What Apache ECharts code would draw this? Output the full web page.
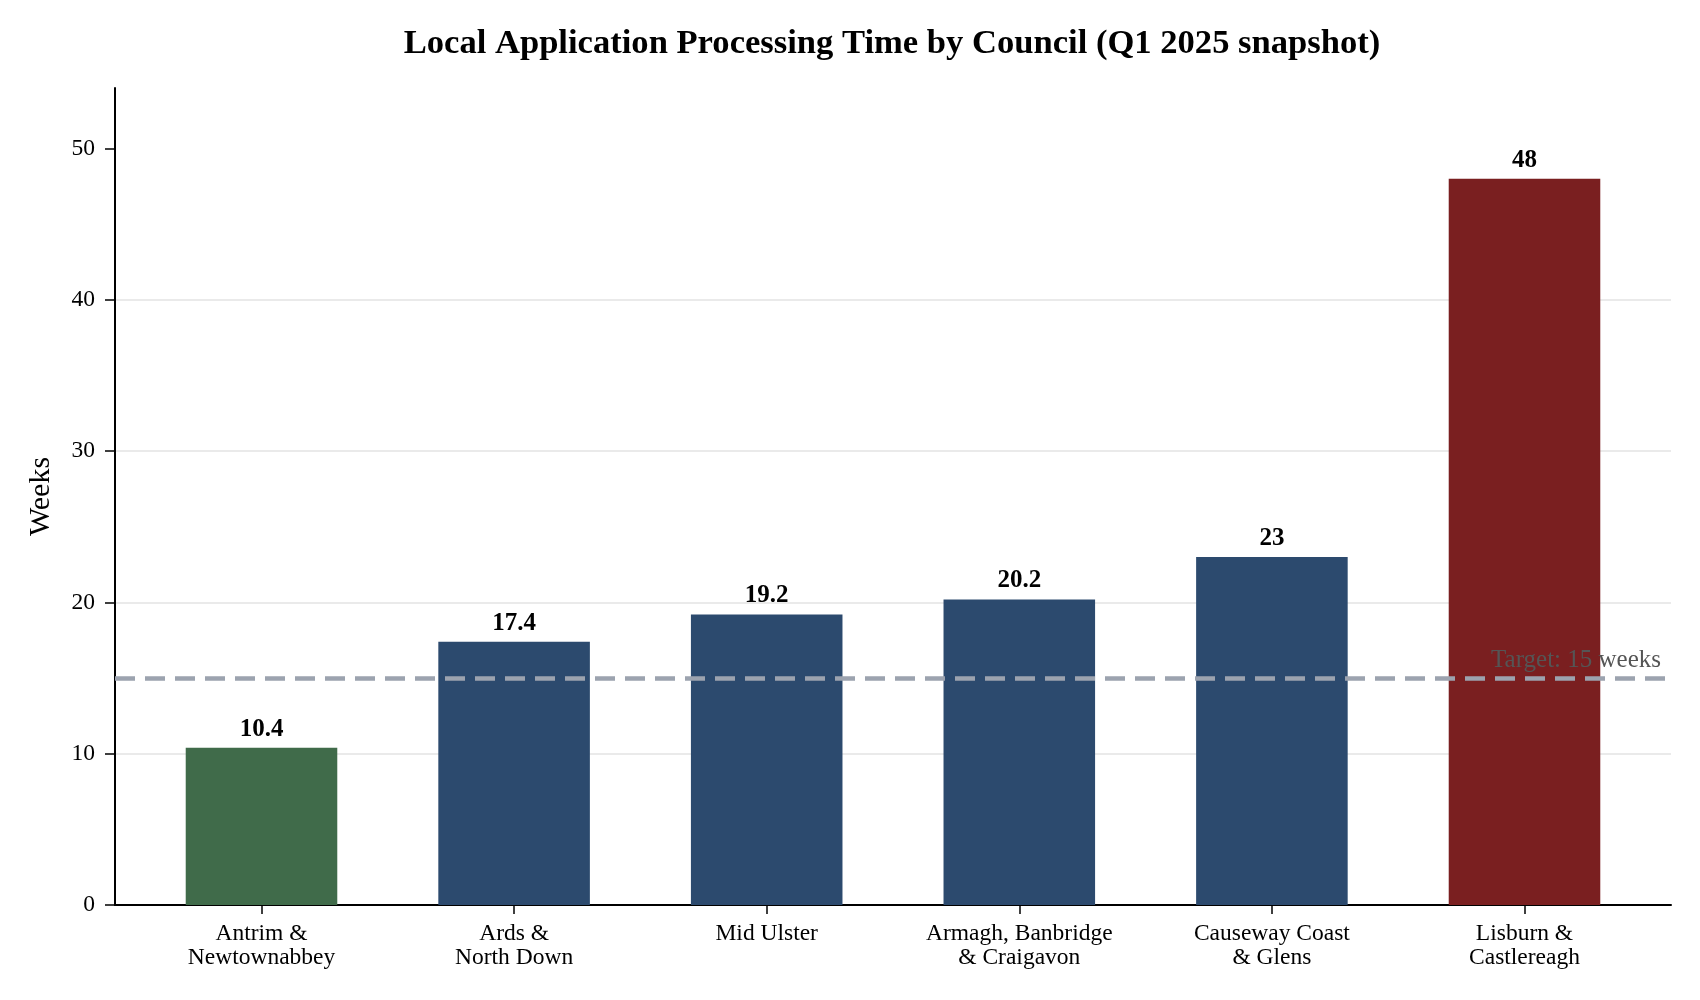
<!DOCTYPE html>
<html>
<head>
<meta charset="utf-8">
<title>Local Application Processing Time by Council</title>
<script src="https://cdn.jsdelivr.net/npm/echarts@6/dist/echarts.min.js"></script>
<style>
  html, body { margin: 0; padding: 0; background: #fff; }
  #chart { width: 1700px; height: 1000px; }
</style>
</head>
<body>
<div id="chart"></div>
<script>
// data
const councils = [
  "Antrim &\nNewtownabbey",
  "Ards &\nNorth Down",
  "Mid Ulster",
  "Armagh, Banbridge\n& Craigavon",
  "Causeway Coast\n& Glens",
  "Lisburn &\nCastlereagh",
];
const weeks = [10.4, 17.4, 19.2, 20.2, 23, 48];
const yTicks = [0, 10, 20, 30, 40, 50];
const targetWeeks = 15;
const yMax = 54;

const FONT = "Liberation Serif";
const GREEN = "#406b4a";
const BLUE = "#2c4a6e";
const RED = "#7a1f20";

// green = under target, red = the slowest, blue for the rest
const worst = Math.max(...weeks);
const barData = weeks.map((v) => ({
  value: v,
  itemStyle: { color: v < targetWeeks ? GREEN : v === worst ? RED : BLUE },
}));

const chart = echarts.init(document.getElementById("chart"), null, {
  renderer: "canvas",
});

const option = {
  backgroundColor: "#fff",
  animation: false,
  textStyle: { fontFamily: FONT },
  title: {
    text: "Local Application Processing Time by Council (Q1 2025 snapshot)",
    left: 887,
    textAlign: "center",
    top: 22,
    textStyle: {
      fontFamily: FONT,
      fontSize: 34.6,
      fontWeight: "bold",
      color: "#000",
    },
  },
  grid: [
    // full plot frame: y axis, grid lines, target line
    { left: 115, right: 29, top: 88, bottom: 95 },
    // inset grid so bar centres sit like matplotlib's padded x range
    { left: 135.2, right: 49.2, top: 88, bottom: 95 },
  ],
  xAxis: [
    {
      type: "value",
      gridIndex: 0,
      min: -0.58,
      max: 5.58,
      axisLine: { show: true, onZero: false, lineStyle: { color: "#000", width: 2 } },
      axisTick: { show: false },
      axisLabel: { show: false },
      splitLine: { show: false },
    },
    {
      type: "category",
      gridIndex: 1,
      data: councils,
      axisLine: { show: false },
      axisTick: {
        show: true,
        alignWithLabel: true,
        length: 9,
        lineStyle: { color: "#000", width: 1.5 },
      },
      axisLabel: {
        fontFamily: FONT,
        fontSize: 23.5,
        lineHeight: 24,
        color: "#000",
        margin: 17,
        interval: 0,
      },
    },
  ],
  yAxis: [
    {
      type: "value",
      gridIndex: 0,
      min: 0,
      max: yMax,
      interval: 10,
      name: "Weeks",
      nameLocation: "middle",
      nameRotate: 90,
      nameGap: 59,
      nameTextStyle: { fontFamily: FONT, fontSize: 30, color: "#000" },
      axisLine: { show: true, onZero: false, lineStyle: { color: "#000", width: 2 } },
      axisTick: {
        show: true,
        length: 10,
        customValues: yTicks,
        lineStyle: { color: "#000", width: 1.5 },
      },
      axisLabel: {
        fontFamily: FONT,
        fontSize: 23.5,
        color: "#000",
        margin: 20,
        customValues: yTicks,
      },
      splitLine: {
        show: true,
        showMaxLine: false,
        lineStyle: { color: "#e3e3e3", width: 1.5 },
      },
    },
    {
      type: "value",
      gridIndex: 1,
      min: 0,
      max: yMax,
      show: false,
    },
  ],
  series: [
    {
      // target line, behind the bars
      type: "line",
      xAxisIndex: 0,
      yAxisIndex: 0,
      data: [],
      z: 1,
      silent: true,
      markLine: {
        symbol: "none",
        silent: true,
        label: { show: false },
        lineStyle: {
          color: "#9ca3af",
          width: 4.5,
          type: [20, 10],
        },
        data: [{ yAxis: targetWeeks }],
      },
    },
    {
      type: "bar",
      xAxisIndex: 1,
      yAxisIndex: 1,
      data: barData,
      barWidth: "60%",
      z: 3,
      label: {
        show: true,
        position: "top",
        distance: 6,
        fontFamily: FONT,
        fontSize: 25,
        fontWeight: "bold",
        color: "#000",
      },
    },
    {
      // target label, drawn over the bars
      type: "line",
      xAxisIndex: 0,
      yAxisIndex: 0,
      data: [],
      z: 5,
      silent: true,
      markLine: {
        symbol: "none",
        silent: true,
        lineStyle: { color: "rgba(0,0,0,0)", width: 1 },
        label: {
          show: true,
          position: "insideEndTop",
          formatter: "Target: " + targetWeeks + " weeks",
          fontFamily: FONT,
          fontSize: 25,
          color: "#555",
          distance: [10, 5],
        },
        data: [{ yAxis: targetWeeks }],
      },
    },
  ],
};

chart.setOption(option);
</script>
</body>
</html>
